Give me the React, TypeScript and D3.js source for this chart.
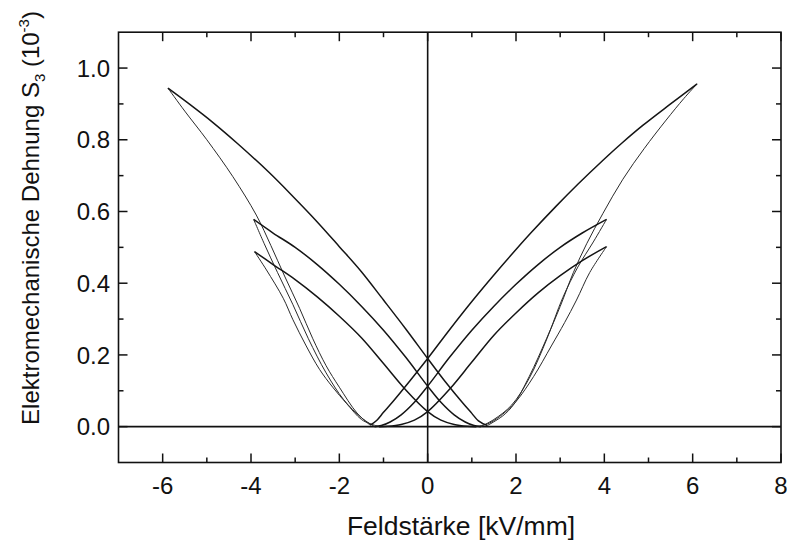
import React from "react";
import * as d3 from "d3";

// Butterfly strain curves S3(E); each branch is a list of [field kV/mm, strain 1e-3]
// Loop A: +-6 kV/mm
const aFallFromPos: [number, number][] = [[6.1,0.956],[5.5,0.9],[4.87,0.84],[4.4,0.791],[3.97,0.743],[3.4,0.676],[2.91,0.615],[2.35,0.542],[2.0,0.494],[1.5,0.423],[1.0,0.349],[0.5,0.271],[0,0.19],[-0.4,0.128],[-0.8,0.068],[-1.0,0.04],[-1.15,0.018],[-1.3,0.004]];
const aRiseToNeg: [number, number][] = [[-1.3,0.004],[-1.6,0.038],[-2.0,0.11],[-2.3,0.17],[-2.6,0.245],[-2.9,0.33],[-3.24,0.42],[-3.55,0.505],[-3.88,0.59],[-4.41,0.697],[-5.0,0.8],[-5.5,0.88],[-5.88,0.944]];
const aFallFromNeg: [number, number][] = [[-5.88,0.944],[-5.4,0.9],[-4.86,0.848],[-4.3,0.789],[-3.6,0.71],[-3.05,0.642],[-2.5,0.571],[-2.0,0.502],[-1.5,0.432],[-1.0,0.353],[-0.5,0.273],[0,0.19],[0.4,0.125],[0.8,0.065],[1.0,0.037],[1.15,0.016],[1.35,0.003]];
const aRiseToPos: [number, number][] = [[1.35,0.003],[1.7,0.03],[1.95,0.062],[2.3,0.14],[2.69,0.245],[3.0,0.335],[3.3,0.43],[3.6,0.51],[3.97,0.595],[4.42,0.69],[4.9,0.775],[5.4,0.855],[5.8,0.915],[6.1,0.956]];

// Loop B: +-4 kV/mm, upper
const bFallFromPos: [number, number][] = [[4.05,0.578],[3.5,0.54],[3.0,0.5],[2.5,0.452],[2.0,0.397],[1.5,0.336],[1.0,0.269],[0.5,0.194],[0,0.113],[-0.3,0.068],[-0.6,0.033],[-0.85,0.013],[-1.05,0.003],[-1.2,0]];
const bRiseToNeg: [number, number][] = [[-1.2,0],[-1.5,0.025],[-1.9,0.075],[-2.3,0.15],[-2.7,0.245],[-3.05,0.34],[-3.4,0.43],[-3.7,0.51],[-3.94,0.578]];
const bFallFromNeg: [number, number][] = [[-3.94,0.578],[-3.5,0.54],[-3.0,0.5],[-2.5,0.452],[-2.0,0.397],[-1.5,0.336],[-1.0,0.269],[-0.5,0.194],[0,0.113],[0.3,0.068],[0.6,0.033],[0.85,0.013],[1.05,0.003],[1.2,0]];
const bRiseToPos: [number, number][] = [[1.2,0],[1.5,0.02],[1.9,0.06],[2.3,0.135],[2.7,0.245],[3.06,0.36],[3.4,0.445],[3.75,0.515],[4.05,0.578]];

// Loop C: +-4 kV/mm, lower
const cFallFromPos: [number, number][] = [[4.05,0.502],[3.5,0.463],[3.0,0.421],[2.5,0.373],[2.0,0.317],[1.5,0.255],[1.0,0.18],[0.5,0.105],[0,0.042],[-0.3,0.018],[-0.6,0.006],[-0.9,0.001],[-1.1,0]];
const cRiseToNeg: [number, number][] = [[-1.1,0],[-1.3,0.008],[-1.5,0.02],[-1.84,0.065],[-2.15,0.11],[-2.45,0.16],[-2.75,0.225],[-3.05,0.298],[-3.27,0.358],[-3.65,0.437],[-3.92,0.488]];
const cFallFromNeg: [number, number][] = [[-3.92,0.488],[-3.5,0.452],[-3.0,0.41],[-2.5,0.362],[-2.0,0.308],[-1.5,0.248],[-1.0,0.176],[-0.5,0.103],[0,0.042],[0.3,0.018],[0.6,0.006],[0.9,0.001],[1.1,0]];
const cRiseToPos: [number, number][] = [[1.1,0],[1.4,0.01],[1.7,0.035],[2.0,0.07],[2.4,0.14],[2.8,0.225],[3.1,0.29],[3.37,0.353],[3.67,0.43],[4.05,0.502]];

const gentleBranches = [aFallFromPos, aFallFromNeg, bFallFromPos, bFallFromNeg, cFallFromPos, cFallFromNeg];
const steepBranches = [aRiseToNeg, aRiseToPos, bRiseToNeg, bRiseToPos, cRiseToNeg, cRiseToPos];

const xMajorTicks = [-6, -4, -2, 0, 2, 4, 6, 8];
const xMinorTicks = [-5, -3, -1, 1, 3, 5, 7];
const yMajorTicks = [0, 0.2, 0.4, 0.6, 0.8, 1.0];
const yMinorTicks = [0.1, 0.3, 0.5, 0.7, 0.9];

const W = 787;
const H = 540;
const L = 118.5, R = 781, T = 32.2, B = 462.5;
const FONT = "'Liberation Sans', Arial, Helvetica, sans-serif";

export default function App() {
  const x = d3.scaleLinear().domain([-7, 8]).range([L, R]);
  const y = d3.scaleLinear().domain([-0.1, 1.1]).range([B, T]);
  const line = d3
    .line<[number, number]>()
    .x((d) => x(d[0]))
    .y((d) => y(d[1]))
    .curve(d3.curveCatmullRom.alpha(0.5));

  const majorLen = 9;
  const minorLen = 5;

  return (
    <div style={{ position: "absolute", left: 0, top: 0 }}>
      <svg width={W} height={H} style={{ display: "block", background: "#fff" }}>
        <defs>
          <clipPath id="plot">
            <rect x={L} y={T} width={R - L} height={B - T} />
          </clipPath>
        </defs>

        {/* zero lines */}
        <line x1={L} x2={R} y1={y(0)} y2={y(0)} stroke="#111" strokeWidth={1.6} />
        <line x1={x(0)} x2={x(0)} y1={T} y2={B} stroke="#111" strokeWidth={1.6} />

        {/* strain curves */}
        <g clipPath="url(#plot)" fill="none" strokeLinejoin="round">
          {steepBranches.map((br, i) => (
            <path key={"s" + i} d={line(br) || ""} stroke="#2a2a2a" strokeWidth={1.0} />
          ))}
          {gentleBranches.map((br, i) => (
            <path key={"g" + i} d={line(br) || ""} stroke="#151515" strokeWidth={1.5} />
          ))}
        </g>

        {/* frame */}
        <rect x={L} y={T} width={R - L} height={B - T} fill="none" stroke="#111" strokeWidth={1.6} />

        {/* ticks, pointing inward on all four sides */}
        <g stroke="#111" strokeWidth={1.5}>
          {xMajorTicks.map((v) => (
            <g key={"xm" + v}>
              <line x1={x(v)} x2={x(v)} y1={B} y2={B - majorLen} />
              <line x1={x(v)} x2={x(v)} y1={T} y2={T + majorLen} />
            </g>
          ))}
          {xMinorTicks.map((v) => (
            <g key={"xn" + v}>
              <line x1={x(v)} x2={x(v)} y1={B} y2={B - minorLen} />
              <line x1={x(v)} x2={x(v)} y1={T} y2={T + minorLen} />
            </g>
          ))}
          {yMajorTicks.map((v) => (
            <g key={"ym" + v}>
              <line x1={L} x2={L + majorLen} y1={y(v)} y2={y(v)} />
              <line x1={R} x2={R - majorLen} y1={y(v)} y2={y(v)} />
            </g>
          ))}
          {yMinorTicks.map((v) => (
            <g key={"yn" + v}>
              <line x1={L} x2={L + minorLen} y1={y(v)} y2={y(v)} />
              <line x1={R} x2={R - minorLen} y1={y(v)} y2={y(v)} />
            </g>
          ))}
        </g>

        {/* tick labels */}
        <g fontFamily={FONT} fontSize={24} fill="#111">
          {xMajorTicks.map((v) => (
            <text key={"xl" + v} x={x(v)} y={494} textAnchor="middle">
              {v}
            </text>
          ))}
          {yMajorTicks.map((v) => (
            <text key={"yl" + v} x={110} y={y(v)} dy="0.36em" textAnchor="end">
              {d3.format(".1f")(v)}
            </text>
          ))}
        </g>

        {/* axis titles */}
        <text x={461} y={535} textAnchor="middle" fontFamily={FONT} fontSize={26.5} fill="#111">
          Feldstärke [kV/mm]
        </text>
        <text
          transform="translate(39,218) rotate(-90)"
          textAnchor="middle"
          fontFamily={FONT}
          fontSize={24}
          fill="#111"
        >
          Elektromechanische Dehnung S
          <tspan fontSize={15} dy={6}>3</tspan>
          <tspan dy={-6}> (10</tspan>
          <tspan fontSize={15} dy={-10}>-3</tspan>
          <tspan dy={10}>)</tspan>
        </text>
      </svg>
    </div>
  );
}
